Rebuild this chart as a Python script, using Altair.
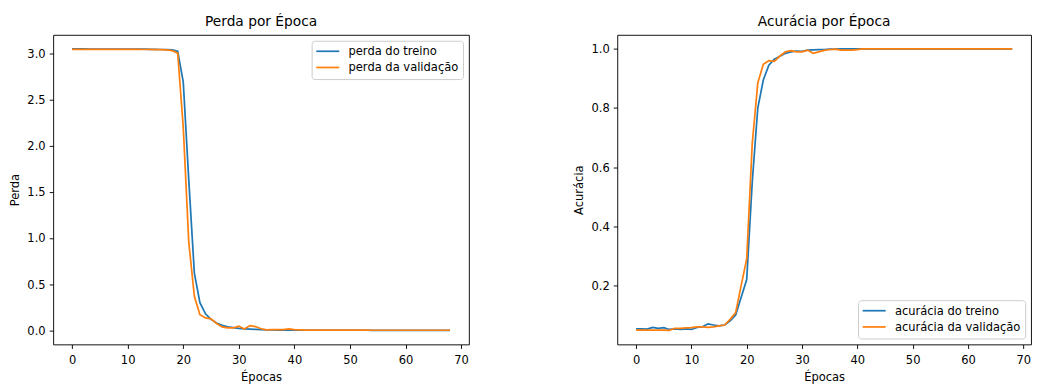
import altair as alt
import pandas as pd

epocas = list(range(69))

perda_treino = [
    3.045, 3.045, 3.045, 3.044, 3.044, 3.044, 3.044, 3.044, 3.043, 3.043,
    3.043, 3.043, 3.042, 3.042, 3.041, 3.040, 3.039, 3.037, 3.034, 3.020,
    2.690, 1.620, 0.620, 0.300, 0.180, 0.120, 0.080, 0.055, 0.040, 0.030,
    0.022, 0.018, 0.014, 0.011, 0.009, 0.006, 0.005, 0.004, 0.004, 0.003,
    0.003, 0.003, 0.002, 0.002, 0.002, 0.002, 0.002, 0.002, 0.002, 0.002,
    0.002, 0.002, 0.002, 0.002, 0.001, 0.001, 0.001, 0.001, 0.001, 0.001,
    0.001, 0.001, 0.001, 0.001, 0.001, 0.001, 0.001, 0.001, 0.001,
]
perda_validacao = [
    3.040, 3.040, 3.040, 3.040, 3.040, 3.040, 3.040, 3.040, 3.040, 3.040,
    3.040, 3.040, 3.040, 3.039, 3.039, 3.038, 3.037, 3.034, 3.026, 3.000,
    2.200, 0.950, 0.370, 0.170, 0.135, 0.125, 0.075, 0.038, 0.027, 0.028,
    0.045, 0.016, 0.052, 0.042, 0.018, 0.007, 0.008, 0.010, 0.009, 0.016,
    0.009, 0.006, 0.004, 0.003, 0.003, 0.003, 0.003, 0.003, 0.003, 0.003,
    0.003, 0.003, 0.003, 0.003, 0.002, 0.002, 0.002, 0.002, 0.002, 0.002,
    0.002, 0.002, 0.002, 0.002, 0.002, 0.002, 0.002, 0.002, 0.002,
]
acuracia_treino = [
    0.053, 0.053, 0.052, 0.058, 0.055, 0.057, 0.051, 0.053, 0.051, 0.053,
    0.051, 0.058, 0.060, 0.070, 0.066, 0.063, 0.066, 0.080, 0.100, 0.160,
    0.220, 0.550, 0.800, 0.895, 0.945, 0.965, 0.975, 0.985, 0.990, 0.993,
    0.992, 0.996, 0.997, 0.998, 0.998, 0.999, 0.999, 1.000, 1.000, 1.000,
    1.000, 1.000, 1.000, 1.000, 1.000, 1.000, 1.000, 1.000, 1.000, 1.000,
    1.000, 1.000, 1.000, 1.000, 1.000, 1.000, 1.000, 1.000, 1.000, 1.000,
    1.000, 1.000, 1.000, 1.000, 1.000, 1.000, 1.000, 1.000, 1.000,
]
acuracia_validacao = [
    0.049, 0.049, 0.049, 0.049, 0.049, 0.049, 0.048, 0.055, 0.055, 0.056,
    0.057, 0.060, 0.060, 0.058, 0.060, 0.063, 0.066, 0.085, 0.108, 0.200,
    0.290, 0.680, 0.885, 0.948, 0.960, 0.958, 0.976, 0.990, 0.994, 0.990,
    0.990, 0.996, 0.985, 0.990, 0.995, 0.998, 0.999, 0.996, 0.996, 0.996,
    0.998, 1.000, 1.000, 1.000, 1.000, 1.000, 1.000, 1.000, 1.000, 1.000,
    1.000, 1.000, 1.000, 1.000, 1.000, 1.000, 1.000, 1.000, 1.000, 1.000,
    1.000, 1.000, 1.000, 1.000, 1.000, 1.000, 1.000, 1.000, 1.000,
]

nomes_perda = ["perda do treino", "perda da validação"]
nomes_acuracia = ["acurácia do treino", "acurácia da validação"]
x_ticks = [0, 10, 20, 30, 40, 50, 60, 70]
y_ticks_perda = [0.0, 0.5, 1.0, 1.5, 2.0, 2.5, 3.0]
y_ticks_acuracia = [0.2, 0.4, 0.6, 0.8, 1.0]

FONT = "DejaVu Sans"
CORES = ["#1f77b4", "#ff7f0e"]
FS = 11.7


def margem(vals):
    lo, hi = min(vals), max(vals)
    m = (hi - lo) * 0.05
    return [lo - m, hi + m]


x_dom = margem(epocas)


def painel(a, b, nomes, titulo, ytitulo, yticks, orient, largura):
    df = pd.DataFrame({
        "Época": epocas + epocas,
        "valor": a + b,
        "serie": [nomes[0]] * len(a) + [nomes[1]] * len(b),
    })
    base = alt.Chart(df).mark_line(strokeWidth=1.75).encode(
        x=alt.X("Época:Q",
                scale=alt.Scale(domain=x_dom, nice=False, zero=False),
                axis=alt.Axis(values=x_ticks, format="d", title="Épocas",
                              labelPadding=6.5)),
        y=alt.Y("valor:Q",
                scale=alt.Scale(domain=margem(a + b), nice=False, zero=False),
                axis=alt.Axis(values=yticks, format=".1f", title=ytitulo,
                              titlePadding=7)),
        color=alt.Color("serie:N",
                        scale=alt.Scale(domain=nomes, range=CORES),
                        legend=alt.Legend(
                            title=None, orient=orient, offset=6,
                            symbolType="M-1.2,0L3.48,0", symbolSize=100,
                            symbolStrokeWidth=1.75, labelOffset=20.8,
                            rowPadding=3.5, padding=4.7,
                            strokeColor="#cccccc", fillColor="#ffffff",
                            cornerRadius=3, labelFont=FONT, labelFontSize=FS,
                            labelColor="black", labelLimit=400)),
    )
    l1 = base.transform_filter(alt.datum.serie == nomes[0])
    l2 = base.transform_filter(alt.datum.serie == nomes[1])
    return alt.layer(l1, l2).properties(
        width=largura, height=315,
        title=alt.TitleParams(titulo, fontSize=14, font=FONT,
                              fontWeight="normal", color="black",
                              anchor="middle", frame="group",
                              baseline="bottom", offset=-8),
    )


p1 = painel(perda_treino, perda_validacao, nomes_perda, "Perda por Época",
            "Perda", y_ticks_perda, "top-right", 423)
p2 = painel(acuracia_treino, acuracia_validacao, nomes_acuracia,
            "Acurácia por Época", "Acurácia", y_ticks_acuracia,
            "bottom-right", 421)

chart = alt.hconcat(p1, p2, spacing=104).resolve_scale(
    x="independent", y="independent", color="independent"
).resolve_legend(color="independent").properties(
    padding={"left": 0, "top": 3, "right": 0, "bottom": 0}
).configure_view(
    stroke="black", strokeWidth=0.94
).configure_axis(
    labelFont=FONT, labelFontSize=FS, labelColor="black",
    titleFont=FONT, titleFontSize=FS, titleFontWeight="normal",
    titleColor="black", tickColor="black", tickSize=4.1, tickWidth=0.94,
    labelPadding=4.1, titlePadding=5, domain=False, grid=False,
)

chart.save("out.html", embed_options={"renderer": "svg", "actions": False})
